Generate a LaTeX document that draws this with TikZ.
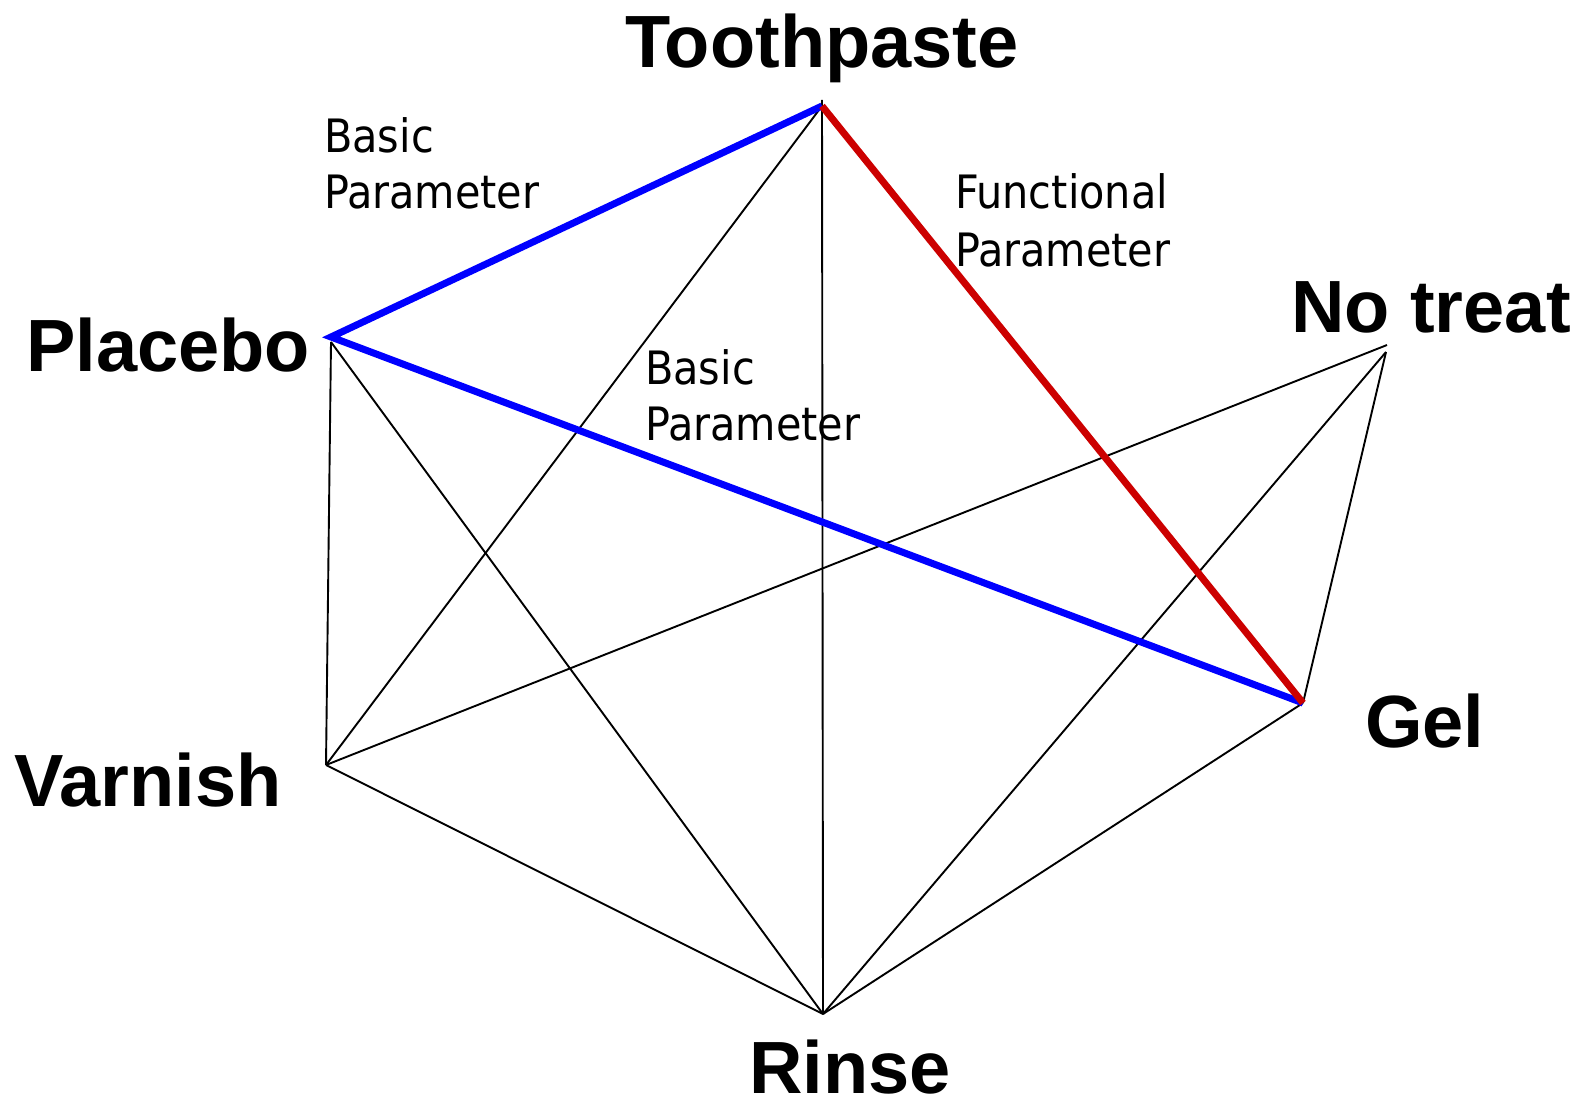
\documentclass[tikz,border=0pt]{standalone}
\usepackage{fontspec}
\setmainfont{Liberation Sans}
\newfontfamily\paramfont{DejaVu Sans Condensed}
\definecolor{redline}{RGB}{204,0,0}
\definecolor{blueline}{RGB}{0,0,255}
\begin{document}
\begin{tikzpicture}[x=1pt,y=-1pt,
  thinedge/.style={black,line width=1.9pt},
  basicedge/.style={draw=blueline,line width=7pt,line join=miter},
  funcedge/.style={draw=redline,line width=7pt},
  treat/.style={inner sep=0pt,anchor=base west,font=\fontsize{74}{80}\selectfont\bfseries},
  param/.style={inner sep=0pt,anchor=base west,font=\fontsize{46}{57}\selectfont\paramfont}]
\useasboundingbox (0,0) rectangle (1579,1102);

% vertices of the network
\coordinate (tp) at (822,106);
\coordinate (tptop) at (822,100);
\coordinate (pl) at (331,337);
\coordinate (plthin) at (331,342);
\coordinate (nt) at (1387,345);
\coordinate (ntthin) at (1386,352);
\coordinate (gel) at (1303,703);
\coordinate (va) at (326,765);
\coordinate (ri) at (823,1014);

% treatment names
\node[treat] (tpl) at (625,68) {Toothpaste};
\node[treat] (pll) at (26,371) {Placebo};
\node[treat] (ntl) at (1291,332) {No treat};
\node[treat] (gell) at (1365,747) {Gel};
\node[treat] (val) at (14,806) {Varnish};
\node[treat] (ril) at (749,1093) {Rinse};

% parameter labels
\node[param] (bpa) at (324,153) {Basic};
\node[param] (bpb) at (324,209) {Parameter};
\node[param] (fpa) at (955,209) {Functional};
\node[param] (fpb) at (955,266) {Parameter};
\node[param] (bqa) at (645,384) {Basic};
\node[param] (bqb) at (645,440) {Parameter};

% thin comparisons
\draw[thinedge] (tptop) -- (ri);
\draw[thinedge] (tp) -- (va);
\draw[thinedge] (plthin) -- (va);
\draw[thinedge] (plthin) -- (ri);
\draw[thinedge] (va) -- (nt);
\draw[thinedge] (va) -- (ri);
\draw[thinedge] (ri) -- (ntthin);
\draw[thinedge] (ri) -- (gel);
\draw[thinedge] (gel) -- (ntthin);

% highlighted comparisons
\draw[basicedge] (tp) -- (pl) -- (gel);
\draw[funcedge] (tp) -- (gel);
\end{tikzpicture}
\end{document}
